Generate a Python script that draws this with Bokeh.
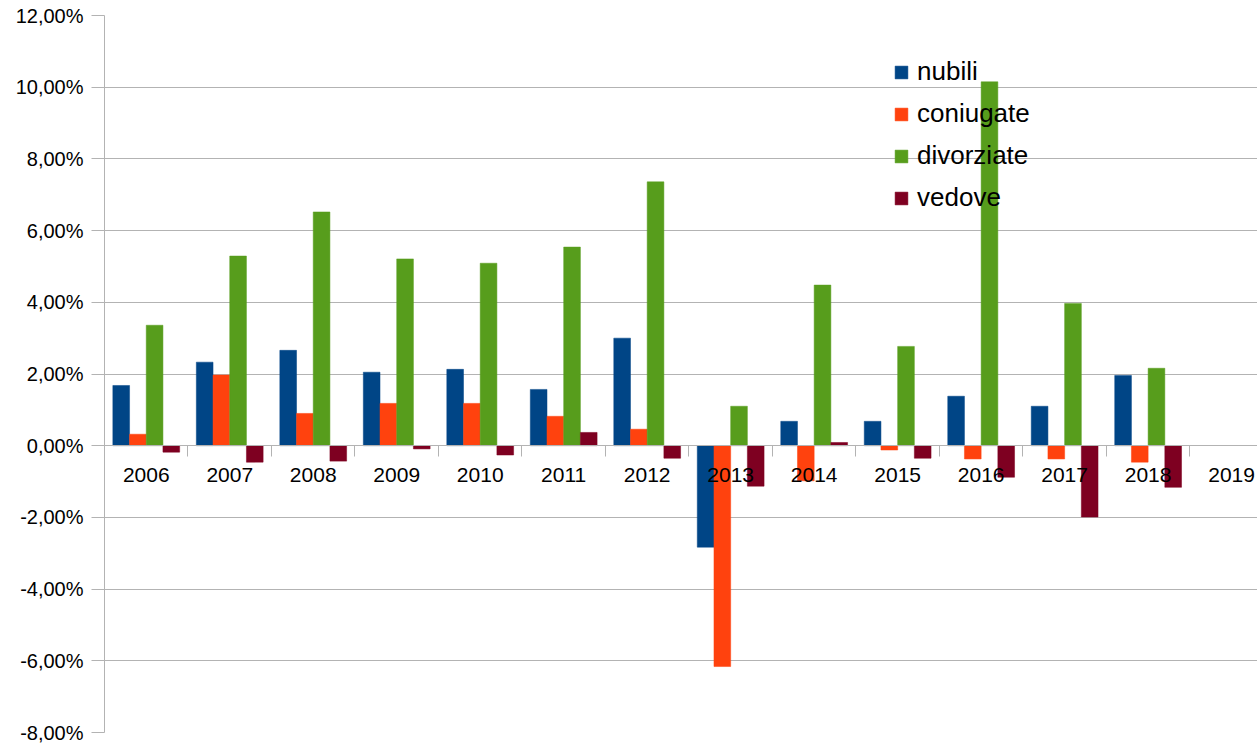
import numpy as np
from bokeh.plotting import figure
from bokeh.models import (ColumnDataSource, Range1d, LinearAxis, FixedTicker,
                          Legend, LegendItem, Grid)
from bokeh.transform import dodge
from bokeh.embed import file_html
from bokeh.resources import INLINE

# ---- data (percent changes) ----
years = ["2006", "2007", "2008", "2009", "2010", "2011", "2012",
         "2013", "2014", "2015", "2016", "2017", "2018", "2019"]
nubili = [1.68, 2.33, 2.66, 2.05, 2.13, 1.57, 3.00, -2.83, 0.68, 0.68, 1.38, 1.10, 1.96, None]
coniugate = [0.32, 1.97, 0.90, 1.18, 1.18, 0.82, 0.46, -6.16, -0.98, -0.12, -0.37, -0.37, -0.46, None]
divorziate = [3.36, 5.29, 6.52, 5.21, 5.09, 5.54, 7.36, 1.10, 4.48, 2.77, 10.15, 3.97, 2.16, None]
vedove = [-0.18, -0.46, -0.43, -0.09, -0.26, 0.37, -0.35, -1.13, 0.09, -0.35, -0.88, -1.99, -1.16, None]

series_names = ["nubili", "coniugate", "divorziate", "vedove"]
series_colors = ["#004586", "#ff420e", "#579d1c", "#7e0021"]

y_ticks = [-8, -6, -4, -2, 0, 2, 4, 6, 8, 10, 12]
y_tick_labels = ["-8,00%", "-6,00%", "-4,00%", "-2,00%", "0,00%", "2,00%",
                 "4,00%", "6,00%", "8,00%", "10,00%", "12,00%"]

FONT = "Liberation Sans"
GRID = "#b3b3b3"

n = len(years)
centers = np.arange(n) + 0.5
boundaries = list(range(n + 1))
source = ColumnDataSource(dict(
    x=centers,
    nubili=np.array(nubili, dtype=float),
    coniugate=np.array(coniugate, dtype=float),
    divorziate=np.array(divorziate, dtype=float),
    vedove=np.array(vedove, dtype=float),
))

p = figure(width=1257, height=743, output_backend="svg", toolbar_location=None,
           x_range=Range1d(0, 13.81), y_range=Range1d(-8, 12),
           x_axis_location=None, y_axis_location=None,
           min_border_left=104, min_border_right=0, min_border_top=15, min_border_bottom=11,
           background_fill_color="white", border_fill_color="white")
p.outline_line_color = None
p.center = []

yt = FixedTicker(ticks=y_ticks)
p.add_layout(Grid(dimension=1, ticker=yt, grid_line_color=GRID, grid_line_width=1))

# bars
bar_w = 0.2
offsets = [-0.3, -0.1, 0.1, 0.3]
renderers = []
for name, col, off in zip(series_names, series_colors, offsets):
    r = p.vbar(x=dodge("x", off), top=name, bottom=0, width=bar_w, source=source,
               fill_color=col, line_color=col, line_width=0.5)
    renderers.append(r)

# y axis
yaxis = LinearAxis(ticker=yt, major_label_overrides=dict(zip(y_ticks, y_tick_labels)))
yaxis.axis_line_color = GRID
yaxis.major_tick_line_color = GRID
yaxis.major_tick_out = 13
yaxis.major_tick_in = 0
yaxis.minor_tick_line_color = None
yaxis.major_label_standoff = 8
yaxis.major_label_text_font = FONT
yaxis.major_label_text_font_size = "20px"
yaxis.major_label_text_color = "black"
p.add_layout(yaxis, "left")

# x axis at zero: year labels at category centres, boundary ticks as minor ticks
xaxis = LinearAxis(ticker=FixedTicker(ticks=list(centers), minor_ticks=boundaries),
                   major_label_overrides={float(c): y for c, y in zip(centers, years)},
                   fixed_location=0)
xaxis.axis_line_color = GRID
xaxis.major_tick_line_color = None
xaxis.minor_tick_line_color = GRID
xaxis.minor_tick_out = 11
xaxis.minor_tick_in = 0
xaxis.major_tick_out = 0
xaxis.major_tick_in = 0
xaxis.major_label_standoff = 11
xaxis.major_label_text_font = FONT
xaxis.major_label_text_font_size = "21px"
xaxis.major_label_text_color = "black"
p.add_layout(xaxis, "below")

legend = Legend(items=[LegendItem(label=nm, renderers=[r]) for nm, r in zip(series_names, renderers)],
                location=(789, 519))
legend.glyph_width = 16
legend.glyph_height = 16
legend.label_standoff = 8
legend.spacing = 11
legend.padding = 0
legend.margin = 0
legend.border_line_color = None
legend.background_fill_alpha = 0
legend.label_text_font = FONT
legend.label_text_font_size = "26px"
legend.label_text_color = "black"
p.add_layout(legend)

open("out.html", "w").write(file_html(p, INLINE))
